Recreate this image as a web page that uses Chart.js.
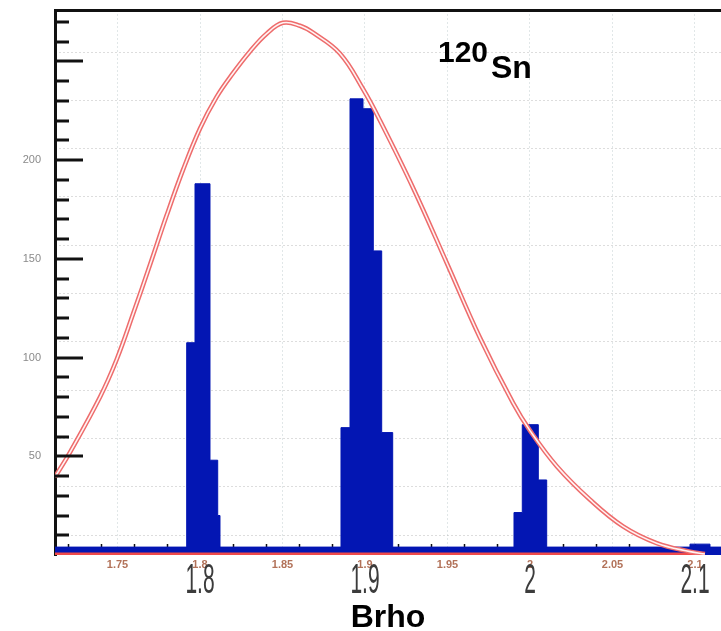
<!DOCTYPE html>
<html>
<head>
<meta charset="utf-8">
<title>120Sn Brho</title>
<script src="https://cdn.jsdelivr.net/npm/chart.js@4.4.1/dist/chart.umd.min.js"></script>
<style>
  html, body { margin: 0; padding: 0; background: #fff; }
  #wrap { position: relative; width: 721px; height: 631px; }
</style>
</head>
<body>
<div id="wrap"><canvas id="brhoChart"></canvas></div>
<script>
// ─── values ──────────────────────────────────────────────────
const brhoRange   = [1.71212, 2.11576]          // visible x range
const countRange  = [0, 276]                    // visible y range

// histogram: bin edges (Brho) and counts per bin
const histEdges  = [1.71212, 1.79194, 1.79697, 1.80606, 1.81073, 1.81212,
                    1.88545, 1.89091, 1.89879, 1.90503, 1.91012, 1.91679,
                    1.99030, 1.99533, 2.00503, 2.01012, 2.09697, 2.10909, 2.11576]
const histCounts = [4, 107.5, 188, 48, 20, 4,
                    64.5, 231, 226, 154, 62, 4,
                    21.5, 66, 38, 4, 5.5, 4]

// fitted envelope (red curve), sampled along the drawing
const fitX = [1.7121, 1.7212, 1.7394, 1.7495, 1.7594, 1.7697, 1.7798, 1.7897, 1.8,
              1.8101, 1.82, 1.8303, 1.8404, 1.8503, 1.8606, 1.8685, 1.8848, 1.8988,
              1.9091, 1.9291, 1.9495, 1.9697, 1.9897, 2.0, 2.0162, 2.0364, 2.0564,
              2.0768, 2.097, 2.106]
const fitY = [39.5, 52, 80, 99, 122, 147, 172, 195, 216,
              232, 244, 255, 264, 269.5, 268, 264.5, 254, 236,
              220, 186, 148, 110, 77, 63, 45, 28, 14.5,
              6, 1.7, 0.5]

// red zero line
const zeroX = [1.71212, 2.106]

// tick labels
const xSmallTicks = [1.75, 1.8, 1.85, 1.9, 1.95, 2, 2.05, 2.1]
const xBigTicks   = [1.8, 1.9, 2, 2.1]
const yLabels     = [50, 100, 150, 200]
const rootGridRows = [0, 1, 2, 3, 4, 5, 6, 7, 8, 9, 10]   // faint dotted rows of the old frame
const rootGridRange = [-0.414, 10.87]

const BLUE = '#0316b3'
const FONT = '"Liberation Sans", Arial, sans-serif'
Chart.defaults.font.family = FONT

const histPoints = histEdges.map((e, i) => ({ x: e, y: histCounts[Math.min(i, histCounts.length - 1)] }))
const fitPoints  = fitX.map((x, i) => ({ x, y: fitY[i] }))
const zeroPoints = zeroX.map(x => ({ x, y: 0 }))

// keep scale label overflow from pushing the plot area around
const noPad = s => { s.paddingTop = 0; s.paddingBottom = 0; s.paddingLeft = 0; s.paddingRight = 0 }

// ─── extra drawing: inner ticks, big labels, nucleus tag ─────
const frameDetails = {
  id: 'frameDetails',
  beforeDatasetsDraw(chart) {
    const { ctx, chartArea, scales: { x } } = chart
    ctx.save()
    ctx.strokeStyle = '#111'
    ctx.lineWidth = 1.5
    for (let v = 1.72; v <= 2.1 + 1e-9; v += 0.02) {
      const px = Math.round(x.getPixelForValue(v)) + 0.5
      ctx.beginPath()
      ctx.moveTo(px, chartArea.bottom - 11)
      ctx.lineTo(px, chartArea.bottom - 5)
      ctx.stroke()
    }
    ctx.restore()
  },
  afterDatasetsDraw(chart) {
    const { ctx, chartArea, scales: { y } } = chart
    ctx.save()
    ctx.strokeStyle = '#111'
    ctx.lineWidth = 3
    for (let v = 10; v <= 270; v += 10) {
      const py = Math.round(y.getPixelForValue(v))
      const len = v % 50 === 0 ? 28 : 14
      ctx.beginPath()
      ctx.moveTo(chartArea.left, py)
      ctx.lineTo(chartArea.left + len, py)
      ctx.stroke()
    }
    ctx.restore()
  },
  afterDraw(chart) {
    const { ctx, chartArea, scales: { x } } = chart
    ctx.save()
    // large, narrow axis numbers
    ctx.fillStyle = '#3c3c3c'
    ctx.font = '42px ' + FONT
    ctx.textAlign = 'center'
    ctx.textBaseline = 'alphabetic'
    xBigTicks.forEach(v => {
      ctx.save()
      ctx.translate(x.getPixelForValue(v), chartArea.bottom + 38)
      ctx.scale(0.5, 1)
      ctx.fillText(String(v), 0, 0)
      ctx.restore()
    })
    // 120Sn tag
    ctx.fillStyle = '#000'
    ctx.textAlign = 'left'
    ctx.font = 'bold 30px ' + FONT
    ctx.fillText('120', 438, 62)
    ctx.font = 'bold 32px ' + FONT
    ctx.fillText('Sn', 491, 78)
    ctx.restore()
  }
}

new Chart(document.getElementById('brhoChart'), {
  type: 'line',
  data: {
    datasets: [
      { label: 'fit core', data: fitPoints, borderColor: '#fff3f3', borderWidth: 1.6,
        pointRadius: 0, tension: 0.4, fill: false, order: 0 },
      { label: 'fit', data: fitPoints, borderColor: '#ee6c6c', borderWidth: 4.6,
        pointRadius: 0, tension: 0.4, fill: false, order: 1 },
      { label: 'zero', data: zeroPoints, borderColor: '#f04a4a', borderWidth: 5,
        pointRadius: 0, fill: false, order: 2 },
      { label: 'Brho', data: histPoints, stepped: true, fill: 'origin',
        backgroundColor: BLUE, borderColor: BLUE, borderWidth: 1, pointRadius: 0, order: 3 },
    ]
  },
  options: {
    responsive: true, maintainAspectRatio: false, animation: false,
    layout: { padding: { top: 10, left: 0, right: 0, bottom: 0 } },
    plugins: { legend: { display: false }, tooltip: { enabled: false } },
    scales: {
      x: {
        type: 'linear', position: 'bottom', min: brhoRange[0], max: brhoRange[1],
        afterBuildTicks: s => { s.ticks = xSmallTicks.map(v => ({ value: v })) },
        afterFit: s => { s.height = 76; noPad(s) },
        ticks: { padding: 3, autoSkip: false, maxRotation: 0, color: '#b27259',
                 font: { size: 11, weight: 'bold' }, callback: v => String(+v.toFixed(2)) },
        grid: { color: 'rgba(170,185,190,0.35)', drawTicks: false },
        border: { display: false, dash: [2, 2] },
        title: { display: true, text: 'Brho', color: '#000',
                 font: { size: 32, weight: 'bold', lineHeight: 1 }, padding: { top: 0, bottom: -3 } }
      },
      xTop: {
        type: 'linear', position: 'top', min: brhoRange[0], max: brhoRange[1],
        afterFit: s => { s.height = 0; noPad(s) },
        ticks: { display: false },
        grid: { display: false, drawTicks: false },
        border: { color: '#111', width: 3 }
      },
      y: {
        position: 'left', min: countRange[0], max: countRange[1],
        afterBuildTicks: s => { s.ticks = yLabels.map(v => ({ value: v })) },
        afterFit: s => { s.width = 55; noPad(s) },
        ticks: { padding: 14, color: '#8a8a8a', font: { size: 11 } },
        grid: { display: false, drawTicks: false },
        border: { color: '#111', width: 3 }
      },
      yRoot: {
        position: 'left', min: rootGridRange[0], max: rootGridRange[1],
        afterBuildTicks: s => { s.ticks = rootGridRows.map(v => ({ value: v })) },
        afterFit: s => { s.width = 0; noPad(s) },
        ticks: { display: false },
        grid: { color: 'rgba(170,170,170,0.4)', drawTicks: false },
        border: { display: false, dash: [2, 2] }
      }
    }
  },
  plugins: [frameDetails]
})
</script>
</body>
</html>
